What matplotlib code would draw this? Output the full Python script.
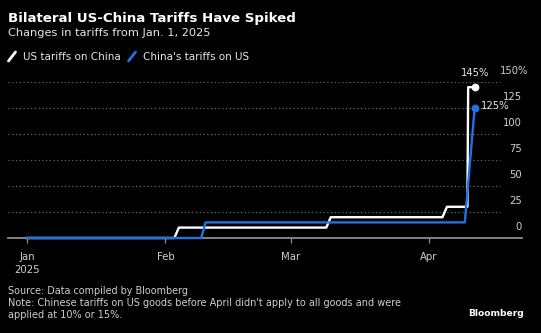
import matplotlib
matplotlib.use("Agg")
import matplotlib.pyplot as plt
import matplotlib.transforms as mtrans
from matplotlib.lines import Line2D
import pandas as pd

# ---------------- data ----------------
us_dates = ["2025-01-01 00:00", "2025-02-03 00:00", "2025-02-04 00:00",
            "2025-03-09 00:00", "2025-03-10 00:00", "2025-04-04 00:00",
            "2025-04-05 00:00", "2025-04-09 14:00", "2025-04-09 18:00",
            "2025-04-11 05:00"]
us_values = [0, 0, 10, 10, 20, 20, 30, 30, 145, 145]

cn_dates = ["2025-01-01 00:00", "2025-02-09 00:00", "2025-02-10 00:00",
            "2025-04-09 00:00", "2025-04-11 05:00"]
cn_values = [0, 0, 15, 15, 125]

series_names = ["US tariffs on China", "China's tariffs on US"]
series_colors = ["#ffffff", "#1f72e3"]
end_labels = ["145%", "125%"]

y_ticks = [0, 25, 50, 75, 100, 125, 150]
x_tick_dates = ["2025-01-01", "2025-02-01", "2025-03-01", "2025-04-01"]
x_tick_labels = ["Jan\n2025", "Feb", "Mar", "Apr"]

title = "Bilateral US-China Tariffs Have Spiked"
subtitle = "Changes in tariffs from Jan. 1, 2025"
source = "Source: Data compiled by Bloomberg"
note = ("Note: Chinese tariffs on US goods before April didn't apply to all goods and were\n"
        "applied at 10% or 15%.")

# ---------------- figure ----------------
W, H = 541, 333
fig = plt.figure(figsize=(W / 100, H / 100), dpi=100, facecolor="black")

def fx(x):
    return x / W

def fy(y):
    return 1 - y / H

ax_left, ax_right, ax_top, ax_bottom = 8, 522, 82, 238
ax = fig.add_axes([fx(ax_left), fy(ax_bottom), (ax_right - ax_left) / W,
                   (ax_bottom - ax_top) / H])
ax.set_facecolor("black")
for s in ax.spines.values():
    s.set_visible(False)

FONT = "DejaVu Sans"
txt_col = "#e6e6e6"
lab_col = "#cfcfcf"

us_x = pd.to_datetime(us_dates, format="%Y-%m-%d %H:%M")
cn_x = pd.to_datetime(cn_dates, format="%Y-%m-%d %H:%M")

start = pd.Timestamp("2025-01-01")
ax.set_xlim(start - pd.Timedelta(days=4.23), start + pd.Timedelta(days=110.8))
ax.set_ylim(0, 150)

# grid lines (dotted), stopping before the labels
grid_xmax = (500 - ax_left) / (ax_right - ax_left)
for v in y_ticks[1:]:
    ax.axhline(v, xmin=0, xmax=grid_xmax, color="#666666", lw=0.9,
               ls=(0, (1, 2)), zorder=1)
ax.axhline(0, color="#8c8c8c", lw=1.3, zorder=1, clip_on=False)

# series
ax.plot(us_x, us_values, color=series_colors[0], lw=1.7, zorder=3,
        clip_on=False, solid_joinstyle="round")
ax.plot(cn_x, cn_values, color=series_colors[1], lw=1.7, zorder=4,
        clip_on=False, solid_joinstyle="round")
ax.plot([cn_x[-1]], [cn_values[-1]], "o", color=series_colors[1], ms=4.6,
        zorder=5, clip_on=False)
ax.plot([us_x[-1]], [us_values[-1]], "o", color=series_colors[0], ms=4.6,
        zorder=5, clip_on=False)

ax.annotate(end_labels[0], (us_x[-1], us_values[-1]), xytext=(0, 10),
            textcoords="offset points", ha="center", va="center",
            color=txt_col, fontsize=7.2, family=FONT, annotation_clip=False)
ax.annotate(end_labels[1], (cn_x[-1], cn_values[-1]), xytext=(4.5, 1.7),
            textcoords="offset points", ha="left", va="center",
            color=txt_col, fontsize=7.2, family=FONT, annotation_clip=False)

# y labels on the right, above their grid lines
ax.set_yticks(y_ticks)
ax.tick_params(axis="y", left=False, right=False, labelleft=False,
               labelright=False)
ytrans = mtrans.blended_transform_factory(ax.transAxes, ax.transData)
off = mtrans.ScaledTranslation(0, 10.5 / 100, fig.dpi_scale_trans)
off_top = mtrans.ScaledTranslation(6 / 100, 10.5 / 100, fig.dpi_scale_trans)
for v in y_ticks:
    if v == y_ticks[-1]:
        ax.text(1.0, v, f"{v}%", transform=ytrans + off_top, ha="right",
                va="center", color=lab_col, fontsize=7.2, family=FONT)
    else:
        ax.text(1.0, v, str(v), transform=ytrans + off, ha="right",
                va="center", color=lab_col, fontsize=7.2, family=FONT)

# x ticks
ax.set_xticks(pd.to_datetime(x_tick_dates))
ax.set_xticklabels(x_tick_labels, color=lab_col, fontsize=7.3, family=FONT,
                   linespacing=1.45)
ax.tick_params(axis="x", direction="out", length=3.5, width=0.9,
               color="#8c8c8c", pad=6.5)

# header
fig.text(fx(8), fy(18.3), title, ha="left", va="center", color="white",
         fontsize=9.6, fontweight="bold", family=FONT)
fig.text(fx(8), fy(33.5), subtitle, ha="left", va="center", color=txt_col,
         fontsize=8.2, family=FONT)

# legend
leg_items = [(8.5, 23, 0), (128.5, 143, 1)]
for icon_x, text_x, i in leg_items:
    fig.add_artist(Line2D([fx(icon_x), fx(icon_x + 7)], [fy(61), fy(52)],
                          transform=fig.transFigure, color=series_colors[i],
                          lw=2.0, solid_capstyle="round"))
    fig.text(fx(text_x), fy(56.7), series_names[i], ha="left", va="center",
             color=txt_col, fontsize=7.45, family=FONT)

# footer
fig.text(fx(7.6), fy(290.7), source, ha="left", va="center", color=lab_col,
         fontsize=6.9, family=FONT)
fig.text(fx(7.6), fy(309.3), note, ha="left", va="center", color=lab_col,
         fontsize=7.0, family=FONT, linespacing=1.3)
fig.text(fx(523.8), fy(313), "Bloomberg", ha="right", va="center",
         color="white", fontsize=6.6, fontweight="bold", family=FONT)

fig.savefig("out.png", dpi=100, facecolor="black")
